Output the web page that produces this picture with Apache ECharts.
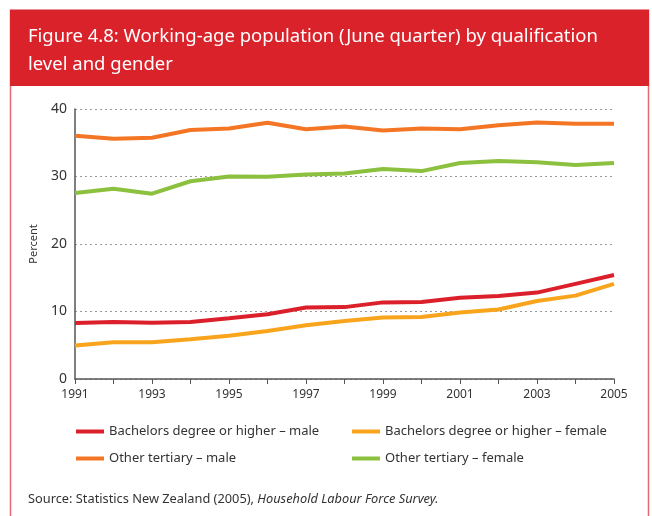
<!DOCTYPE html>
<html>
<head>
<meta charset="utf-8">
<script src="https://cdn.jsdelivr.net/npm/echarts@6/dist/echarts.min.js"></script>
<style>
  html, body { margin: 0; padding: 0; background: #fff; }
  #chart { width: 652px; height: 516px; }
</style>
</head>
<body>
<div id="chart"></div>
<script>
// years on the x axis
const years = ['1991', '1992', '1993', '1994', '1995', '1996', '1997', '1998',
  '1999', '2000', '2001', '2002', '2003', '2004', '2005'];

// percent of working-age population
const bachelorsMale = [8.3, 8.45, 8.35, 8.45, 9.0, 9.6, 10.6, 10.65, 11.35, 11.4, 12.05, 12.3, 12.8, 14.1, 15.4];
const bachelorsFemale = [4.95, 5.45, 5.45, 5.9, 6.4, 7.1, 7.95, 8.6, 9.1, 9.2, 9.85, 10.3, 11.55, 12.35, 14.1];
const otherMale = [36.05, 35.6, 35.75, 36.9, 37.1, 37.95, 37.0, 37.4, 36.8, 37.1, 37.0, 37.6, 38.0, 37.8, 37.8];
const otherFemale = [27.55, 28.2, 27.45, 29.3, 30.0, 29.95, 30.3, 30.45, 31.1, 30.8, 32.0, 32.3, 32.1, 31.7, 32.0];

const seriesNames = [
  'Bachelors degree or higher – male',
  'Bachelors degree or higher – female',
  'Other tertiary – male',
  'Other tertiary – female'
];

const BODY = "'Noto Sans', sans-serif";

const chart = echarts.init(document.getElementById('chart'));

function lineSeries(name, data, color) {
  return {
    name: name,
    type: 'line',
    data: data,
    symbol: 'none',
    smooth: false,
    lineStyle: { width: 4, color: color },
    itemStyle: { color: color }
  };
}

function legendColumn(names, left) {
  return {
    data: names,
    orient: 'vertical',
    left: left,
    top: 420,
    itemWidth: 28,
    itemHeight: 4,
    itemGap: 14,
    icon: 'rect',
    textStyle: { fontSize: 13, color: '#333', fontFamily: BODY }
  };
}

chart.setOption({
  backgroundColor: '#fff',
  animation: false,
  textStyle: { fontFamily: BODY },
  title: {
    text: 'Figure 4.8: Working-age population (June quarter) by qualification\nlevel and gender',
    left: 23,
    top: 18,
    textStyle: {
      color: '#fff',
      fontFamily: BODY,
      fontSize: 18.5,
      fontWeight: 'normal',
      lineHeight: 28
    }
  },
  // 外框和标题底色
  graphic: [
    {
      type: 'rect',
      z: -10,
      shape: { x: 10.5, y: 10, width: 638, height: 530 },
      style: { fill: '#fff', stroke: '#e36a74', lineWidth: 1.5 }
    },
    {
      type: 'rect',
      z: -9,
      shape: { x: 10, y: 10, width: 639, height: 76 },
      style: { fill: '#d9222a' }
    },
    {
      type: 'text',
      left: 28,
      top: 493,
      style: {
        text: '{n|Source: Statistics New Zealand (2005), }{i|Household Labour Force Survey.}',
        rich: {
          n: { fontFamily: BODY, fontSize: 12.8, fill: '#333' },
          i: { fontFamily: BODY, fontSize: 12.8, fill: '#333', fontStyle: 'italic' }
        }
      }
    }
  ],
  legend: [
    legendColumn([seriesNames[0], seriesNames[2]], 71),
    legendColumn([seriesNames[1], seriesNames[3]], 347)
  ],
  grid: { left: 75, right: 38, top: 109, bottom: 137, containLabel: false },
  xAxis: {
    type: 'category',
    data: years,
    boundaryGap: false,
    axisLine: { lineStyle: { color: '#555', width: 1.5 } },
    axisTick: { show: true, interval: 0, length: 5, lineStyle: { color: '#555' } },
    axisLabel: { interval: 1, color: '#333', fontSize: 12, margin: 10 }
  },
  yAxis: {
    type: 'value',
    min: 0,
    max: 40,
    interval: 10,
    name: 'Percent',
    nameLocation: 'middle',
    nameGap: 36,
    nameTextStyle: { fontSize: 11, color: '#333' },
    axisLine: { show: true, lineStyle: { color: '#555', width: 1.5 } },
    axisTick: { show: false },
    axisLabel: { color: '#333', fontSize: 14, margin: 8 },
    splitLine: { lineStyle: { type: [2, 3], color: '#999' } }
  },
  series: [
    lineSeries(seriesNames[0], bachelorsMale, '#db1f2b'),
    lineSeries(seriesNames[1], bachelorsFemale, '#f8a51d'),
    lineSeries(seriesNames[2], otherMale, '#f47625'),
    lineSeries(seriesNames[3], otherFemale, '#8cc03f')
  ]
});
</script>
</body>
</html>
